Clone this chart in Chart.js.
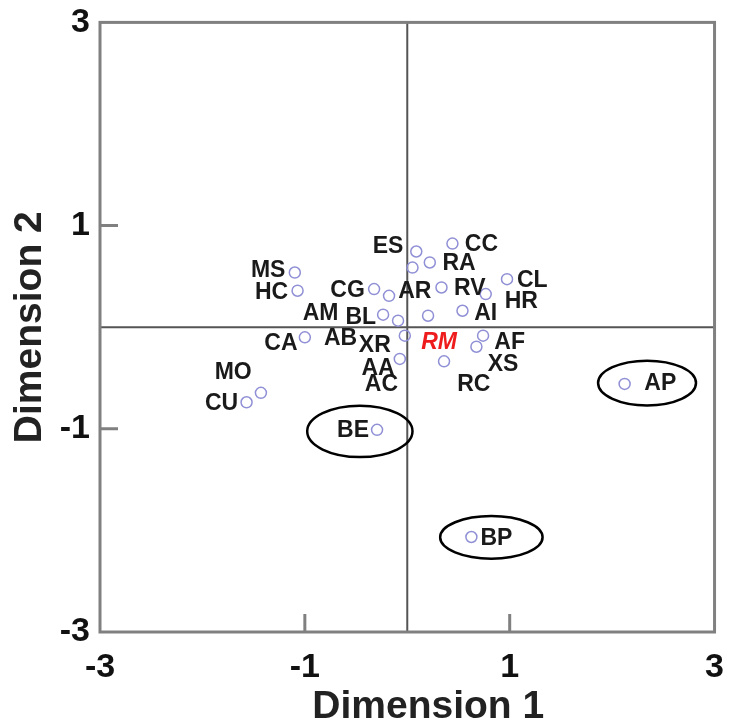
<!DOCTYPE html>
<html>
<head>
<meta charset="utf-8">
<title>Dimension plot</title>
<script src="https://cdn.jsdelivr.net/npm/chart.js@4.4.1/dist/chart.umd.min.js"></script>
<style>
    html, body { margin: 0; padding: 0; background: #fff; }
    #wrap { width: 731px; height: 726px; }
</style>
</head>
<body>
<div id="wrap"><canvas id="mdsChart"></canvas></div>
<script>
// point coordinates (dimension 1, dimension 2)
const dim1 = [0.088, 0.051, 0.441, 0.220, -1.098, -1.071, -0.324, -0.178, 0.334, 0.766,
              0.974, -0.236, -0.090, 0.203, 0.539, -1.000, -0.024, -0.073, 0.740, 0.675,
              0.359, -1.569, -1.429, -0.295, 0.626, 2.122];
const dim2 = [0.745, 0.587, 0.823, 0.637, 0.538, 0.359, 0.375, 0.309, 0.391, 0.326,
              0.473, 0.123, 0.064, 0.113, 0.162, -0.100, -0.083, -0.312, -0.083, -0.192,
              -0.336, -0.739, -0.646, -1.010, -2.065, -0.558];

// text labels and where they sit, in axis units
const labelNames = ['ES', 'MS', 'HC', 'CG', 'AR', 'AM', 'BL', 'CA', 'AB', 'XR', 'MO', 'AA', 'AC', 'CU',
                    'CC', 'RA', 'RV', 'CL', 'HR', 'AI', 'RM', 'AF', 'XS', 'RC', 'BE', 'BP', 'AP'];
const labelX = [-0.187, -1.358, -1.325, -0.583, 0.073, -0.847, -0.454, -1.234, -0.652, -0.317, -1.700, -0.285, -0.252, -1.813,
                0.724, 0.505, 0.610, 1.221, 1.114, 0.766, 0.310, 1.000, 0.935, 0.649, -0.529, 0.870, 2.470];
const labelY = [0.791, 0.555, 0.342, 0.359, 0.349, 0.130, 0.096, -0.159, -0.116, -0.182, -0.444, -0.405, -0.568, -0.749,
                0.810, 0.621, 0.375, 0.457, 0.253, 0.136, -0.155, -0.149, -0.368, -0.565, -1.017, -2.081, -0.558];

// circled outliers: centre x, centre y, radius x, radius y
const ringX = [-0.463, 0.821, 2.341];
const ringY = [-1.025, -2.068, -0.550];
const ringRx = [0.514, 0.500, 0.478];
const ringRy = [0.253, 0.210, 0.221];

const axisTicks = [-3, -1, 1, 3];
const innerTicks = [-1, 1];

const FONT = "'Liberation Sans', Arial, sans-serif";

const points = dim1.map((x, i) => ({ x: x, y: dim2[i] }));

// frame, zero lines, short inward ticks, labels and rings
const framePlugin = {
    id: 'framePlugin',
    beforeDatasetsDraw(chart) {
        const ctx = chart.ctx;
        const a = chart.chartArea;
        const xs = chart.scales.x, ys = chart.scales.y;
        ctx.save();
        ctx.strokeStyle = '#555';
        ctx.lineWidth = 2;
        const x0 = xs.getPixelForValue(0), y0 = ys.getPixelForValue(0);
        ctx.beginPath();
        ctx.moveTo(x0, a.top); ctx.lineTo(x0, a.bottom);
        ctx.moveTo(a.left, y0); ctx.lineTo(a.right, y0);
        ctx.stroke();

        ctx.strokeStyle = '#808080';
        ctx.lineWidth = 3;
        ctx.beginPath();
        innerTicks.forEach(v => {
            const px = xs.getPixelForValue(v);
            ctx.moveTo(px, a.bottom); ctx.lineTo(px, a.bottom - 18);
            const py = ys.getPixelForValue(v);
            ctx.moveTo(a.left, py); ctx.lineTo(a.left + 18, py);
        });
        ctx.stroke();
        ctx.strokeRect(a.left, a.top, a.right - a.left, a.bottom - a.top);
        ctx.restore();
    },
    afterDatasetsDraw(chart) {
        const ctx = chart.ctx;
        const a = chart.chartArea;
        const xs = chart.scales.x, ys = chart.scales.y;
        ctx.save();
        ctx.textAlign = 'center';
        ctx.textBaseline = 'middle';
        labelNames.forEach((name, i) => {
            const px = xs.getPixelForValue(labelX[i]);
            const py = ys.getPixelForValue(labelY[i]);
            if (name === 'RM') {
                ctx.fillStyle = '#ee1c1c';
                ctx.font = 'italic bold 23px ' + FONT;
            } else {
                ctx.fillStyle = '#1a1a1a';
                ctx.font = 'bold 23px ' + FONT;
            }
            ctx.fillText(name, px, py);
        });

        ctx.strokeStyle = '#000';
        ctx.lineWidth = 2.5;
        ringX.forEach((cx, i) => {
            const px = xs.getPixelForValue(cx);
            const py = ys.getPixelForValue(ringY[i]);
            const rx = Math.abs(xs.getPixelForValue(cx + ringRx[i]) - px);
            const ry = Math.abs(ys.getPixelForValue(ringY[i] + ringRy[i]) - py);
            ctx.beginPath();
            ctx.ellipse(px, py, rx, ry, 0, 0, Math.PI * 2);
            ctx.stroke();
        });

        // x-axis title, sits a little right of the plot centre
        ctx.fillStyle = '#222';
        ctx.font = 'bold 39px ' + FONT;
        ctx.fillText('Dimension 1', (a.left + a.right) / 2 + 21, 707);
        ctx.restore();
    }
};

new Chart(document.getElementById('mdsChart'), {
    type: 'scatter',
    data: {
        datasets: [{
            data: points,
            pointStyle: 'circle',
            pointRadius: 5.5,
            pointBorderWidth: 1.5,
            pointBorderColor: '#9090d6',
            pointBackgroundColor: 'rgba(0,0,0,0)'
        }]
    },
    options: {
        responsive: true,
        maintainAspectRatio: false,
        animation: false,
        layout: { padding: { top: 21, right: 16, left: 0, bottom: 0 } },
        plugins: {
            legend: { display: false },
            tooltip: { enabled: false }
        },
        scales: {
            x: {
                min: -3, max: 3,
                afterBuildTicks: axis => { axis.ticks = axisTicks.map(v => ({ value: v })); },
                afterFit: scale => { scale.height = 94; },
                grid: { display: false },
                border: { display: false },
                ticks: {
                    autoSkip: false,
                    maxRotation: 0,
                    padding: 7,
                    color: '#111',
                    font: { family: FONT, size: 34, weight: 'bold' }
                }
            },
            y: {
                min: -3, max: 3,
                afterBuildTicks: axis => { axis.ticks = axisTicks.map(v => ({ value: v })); },
                afterFit: scale => { scale.width = 100; },
                grid: { display: false },
                border: { display: false },
                ticks: {
                    autoSkip: false,
                    padding: 2,
                    color: '#111',
                    font: { family: FONT, size: 34, weight: 'bold' }
                },
                title: {
                    display: true,
                    text: 'Dimension 2',
                    color: '#222',
                    padding: { top: 7, bottom: 0 },
                    font: { family: FONT, size: 39, weight: 'bold' }
                }
            }
        }
    },
    plugins: [framePlugin]
});
</script>
</body>
</html>
